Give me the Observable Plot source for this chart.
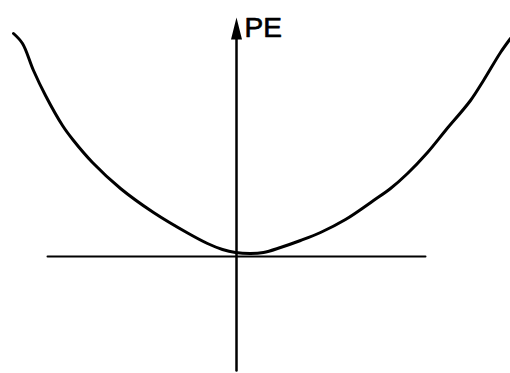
<!DOCTYPE html>
<html>
<head>
<meta charset="utf-8">
<script src="https://cdn.jsdelivr.net/npm/d3@7"></script>
<script src="https://cdn.jsdelivr.net/npm/@observablehq/plot@0.6"></script>
<style>
  html, body { margin: 0; padding: 0; background: #fff; }
  #chart svg { display: block; }
</style>
</head>
<body>
<div id="chart"></div>
<script>
// Potential energy curve (arbitrary units)
const curveX = [-22.3, -21.4, -20.3, -19.1, -17.4, -16.3, -14.4, -11.6, -8.3, -4.8, -2.9, -1.4, -0.1, 1.4, 2.7, 4.4, 6.4, 8.4, 10.9, 13.7, 15.4, 17.1, 19.1, 20.9, 23.4, 24.7, 26.4, 27.4];
const curveY = [22.3, 21.3, 18.6, 16.1, 13.1, 11.6, 9.4, 6.8, 4.4, 2.3, 1.3, 0.7, 0.4, 0.3, 0.4, 0.9, 1.6, 2.4, 3.7, 5.6, 6.8, 8.3, 10.4, 12.6, 15.6, 17.6, 20.4, 21.8];
// Horizontal axis extent and vertical axis extent
const hAxisX = [-18.9, 18.9];
const vAxisY = [-11.4, 21.8];
const axisLabel = "PE";

const curve = curveX.map((x, i) => ({x, y: curveY[i]}));
const hAxis = hAxisX.map(x => ({x, y: 0}));
const vAxis = vAxisY.map(y => ({x: 0, y}));

// narrow filled arrowhead, tip up, anchored at its base
const arrowHead = {
  draw(ctx, size) {
    const r = Math.sqrt(size / Math.PI);
    ctx.moveTo(0, -4 * r);
    ctx.lineTo(r, 0);
    ctx.lineTo(-r, 0);
    ctx.closePath();
  }
};

const chart = Plot.plot({
  width: 510,
  height: 373,
  margin: 0,
  x: {domain: [-23.6, 27.4], axis: null},
  y: {domain: [-11.7, 25.6], axis: null},
  style: {background: "#fff"},
  marks: [
    Plot.line(hAxis, {x: "x", y: "y", stroke: "black", strokeWidth: 2}),
    Plot.line(vAxis, {x: "x", y: "y", stroke: "black", strokeWidth: 2.5}),
    Plot.dot([{x: 0, y: vAxisY[1] - 0.1}], {x: "x", y: "y", symbol: arrowHead, r: 5.5, fill: "black", stroke: "none"}),
    Plot.text([{x: 0.8, y: 22.0, t: axisLabel}], {
      x: "x", y: "y", text: "t", textAnchor: "start", lineAnchor: "bottom",
      fontSize: 28, fontFamily: "Liberation Sans, Arial, sans-serif", fill: "black",
      stroke: "black", strokeWidth: 0.7
    }),
    Plot.line(curve, {x: "x", y: "y", stroke: "black", strokeWidth: 3, curve: "catmull-rom"})
  ]
});
document.getElementById("chart").append(chart);
</script>
</body>
</html>
